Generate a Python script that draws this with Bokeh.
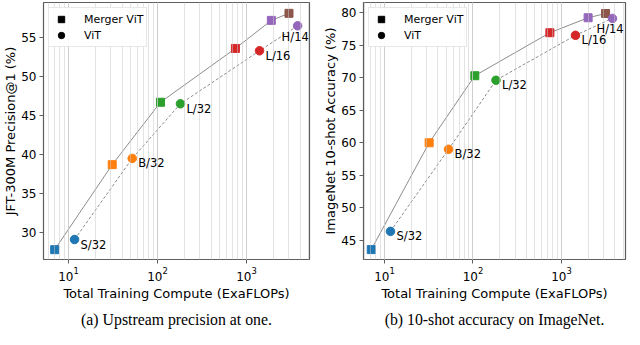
from bokeh.plotting import figure
from bokeh.models import (ColumnDataSource, Label, Legend, LegendItem,
                          FixedTicker, Title, LogTicker, Range1d)
from bokeh.layouts import row
from bokeh.embed import file_html
from bokeh.resources import INLINE

# ---- data ----
merger_colors = ["#1f77b4", "#ff7f0e", "#2ca02c", "#d62728", "#9467bd", "#8c564b"]
vit_colors = ["#1f77b4", "#ff7f0e", "#2ca02c", "#d62728", "#9467bd"]
vit_names = ["S/32", "B/32", "L/32", "L/16", "H/14"]

# (a) upstream precision@1
a_merger_x = [7.0, 31, 108, 750, 1900, 3000]
a_merger_y = [27.8, 38.7, 46.7, 53.6, 57.2, 58.1]
a_vit_x = [11.7, 52, 181, 1400, 3750]
a_vit_y = [29.1, 39.5, 46.5, 53.3, 56.5]

# (b) ImageNet 10-shot
b_merger_x = [7.1, 32, 105, 740, 2000, 3150]
b_merger_y = [43.6, 60.0, 70.3, 76.9, 79.2, 79.85]
b_vit_x = [11.7, 53, 182, 1440, 3770]
b_vit_y = [46.4, 59.0, 69.6, 76.5, 79.1]

a_yticks = [30, 35, 40, 45, 50, 55]
b_yticks = [45, 50, 55, 60, 65, 70, 75, 80]

# label placement (screen px)
lab_dx = [6, 6, 6, 6, -16]
lab_dy = [-5, -5, -5, -5, -11]

FONT = "DejaVu Sans"
FRAME = "#5e5e5e"
NAN = float("nan")


def panel(xr, yr, yticks, ylabel, mx, my, vx, vy, caption,
          bl, fw, br, cap_off):
    p = figure(x_axis_type="log", x_range=Range1d(*xr), y_range=Range1d(*yr),
               frame_width=fw, frame_height=257,
               min_border_left=bl, min_border_right=br,
               min_border_top=2, min_border_bottom=70,
               output_backend="svg", toolbar_location=None)
    p.outline_line_color = FRAME
    p.outline_line_width = 1.2
    p.background_fill_color = "white"
    p.border_fill_color = "white"

    # grids: vertical (major + minor), light, drawn over markers
    p.ygrid.grid_line_color = None
    p.xgrid.grid_line_color = "#c8c8c8"
    p.xgrid.grid_line_alpha = 0.5
    p.xgrid.minor_grid_line_color = "#c8c8c8"
    p.xgrid.minor_grid_line_alpha = 0.5
    p.xgrid.level = "guide"
    p.xaxis.ticker = LogTicker(num_minor_ticks=10)

    p.yaxis.ticker = FixedTicker(ticks=yticks)
    for ax in (p.xaxis, p.yaxis):
        ax.axis_line_color = None
        ax.major_tick_line_color = FRAME
        ax.major_tick_out = 4
        ax.major_tick_in = 0
        ax.minor_tick_line_color = None
        ax.major_label_text_font = FONT
        ax.major_label_text_font_size = "12px"
        ax.major_label_text_color = "black"
        ax.axis_label_text_font = FONT
        ax.axis_label_text_font_size = "13px"
        ax.axis_label_text_font_style = "normal"
        ax.axis_label_text_color = "black"
        ax.major_label_standoff = 3
        ax.axis_label_standoff = 0
    p.xaxis.axis_label_standoff = 2
    p.xaxis.axis_label = "Total Training Compute (ExaFLOPs)"
    p.yaxis.axis_label = ylabel

    # lines
    p.line(mx, my, line_color="#8c8c8c", line_width=1)
    p.line(vx, vy, line_color="#8c8c8c", line_width=1, line_dash="3 2")

    ms = ColumnDataSource(dict(x=mx, y=my, c=merger_colors))
    vs = ColumnDataSource(dict(x=vx, y=vy, c=vit_colors))
    p.scatter("x", "y", source=ms, marker="square", size=8,
              fill_color="c", line_color="c")
    p.scatter("x", "y", source=vs, marker="circle", size=8.5,
              fill_color="c", line_color="c")

    for xi, yi, name, dx, dy in zip(vx, vy, vit_names, lab_dx, lab_dy):
        p.add_layout(Label(x=xi, y=yi, text=name, x_offset=dx, y_offset=dy,
                           text_font=FONT, text_font_size="11.5px",
                           text_color="black", text_baseline="middle",
                           text_align="left"))

    # legend with black proxy markers (not drawn in the plot)
    r1 = p.scatter(x=[NAN], y=[NAN], marker="square", size=8, color="black")
    r2 = p.scatter(x=[NAN], y=[NAN], marker="circle", size=8.5, color="black")
    leg = Legend(items=[LegendItem(label="Merger ViT", renderers=[r1]),
                        LegendItem(label="ViT", renderers=[r2])],
                 location="top_left")
    leg.label_text_font = FONT
    leg.label_text_font_size = "11px"
    leg.label_text_color = "black"
    leg.border_line_color = "#d0d0d0"
    leg.border_line_width = 1
    leg.background_fill_alpha = 0.9
    leg.margin = 5
    leg.padding = 3
    leg.spacing = 0
    leg.glyph_width = 18
    leg.glyph_height = 16
    leg.label_height = 16
    leg.label_standoff = 14
    p.add_layout(leg)

    cap = Title(text=caption, align="center", offset=cap_off,
                text_font="Liberation Serif", text_font_size="15.8px",
                text_font_style="normal", text_color="black", standoff=11)
    p.add_layout(cap, "below")
    return p


p1 = panel((5.24, 5100), (26.54, 59.49), a_yticks, "JFT-300M Precision@1 (%)",
           a_merger_x, a_merger_y, a_vit_x, a_vit_y,
           "(a) Upstream precision at one.", 37, 266, 9, -16)
p2 = panel((5.8, 5290), (42.08, 81.54), b_yticks, "ImageNet 10-shot Accuracy (%)",
           b_merger_x, b_merger_y, b_vit_x, b_vit_y,
           "(b) 10-shot accuracy on ImageNet.", 45, 262, 5, -18)

layout = row(p1, p2, spacing=0)
open("out.html", "w").write(file_html(layout, INLINE))
